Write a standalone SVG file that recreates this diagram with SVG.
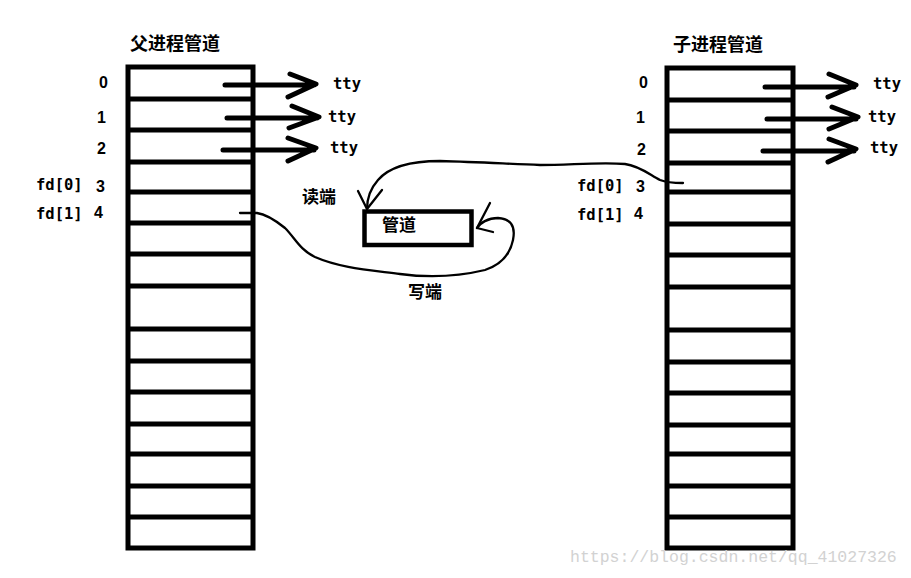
<svg xmlns="http://www.w3.org/2000/svg" width="911" height="578" viewBox="0 0 911 578">
<style>
.tbl{fill:none;stroke:#000;stroke-width:5}
.row{stroke:#000;stroke-width:5}
.arr{fill:none;stroke:#000;stroke-width:5;stroke-linecap:round;stroke-linejoin:round}
.wire{fill:none;stroke:#000;stroke-width:2.3;stroke-linecap:round;stroke-linejoin:round}
.num{font-family:"Liberation Sans",Arial,sans-serif;font-weight:bold;font-size:16px;fill:#000}
.mono{font-family:"DejaVu Sans Mono","Liberation Mono",monospace;font-weight:bold;font-size:15.5px;fill:#000}
.cjk{font-family:"Noto Sans CJK SC","Noto Sans CJK JP",sans-serif;font-weight:bold;font-size:17px;fill:#000}
.title{font-family:"Noto Sans CJK SC","Noto Sans CJK JP",sans-serif;font-weight:bold;font-size:18px;fill:#000}
.wm{font-family:"Liberation Mono","Courier New",monospace;font-size:16.5px;fill:#d2d2d2}
</style>
<rect width="911" height="578" fill="#fff"/>
<g id="parent-table">
<text class="title" x="130" y="50">父进程管道</text>
<rect class="tbl" x="128" y="67" width="125" height="481"/>
<path class="row" d="M128,99H253M128,130H253M128,162H253M128,192H253M128,223H253M128,254H253M128,286H253M128,329H253M128,361H253M128,392H253M128,424H253M128,454H253M128,486H253M128,517H253"/>
<text class="num" x="99" y="88">0</text>
<text class="num" x="97" y="123">1</text>
<text class="num" x="97" y="154">2</text>
<text class="num" x="96" y="192">3</text>
<text class="num" x="94" y="218">4</text>
<text class="mono" x="36" y="190">fd[0]</text>
<text class="mono" x="36" y="219">fd[1]</text>
<text class="mono" x="333" y="89">tty</text>
<text class="mono" x="328" y="122">tty</text>
<text class="mono" x="330" y="153">tty</text>
</g>
<g id="child-table">
<text class="title" x="673" y="51">子进程管道</text>
<rect class="tbl" x="667" y="68" width="126" height="480"/>
<path class="row" d="M667,100H793M667,131H793M667,163H793M667,192H793M667,224H793M667,255H793M667,287H793M667,330H793M667,362H793M667,393H793M667,425H793M667,454H793M667,486H793M667,517H793"/>
<text class="num" x="639" y="88">0</text>
<text class="num" x="636" y="123">1</text>
<text class="num" x="637" y="155">2</text>
<text class="num" x="636" y="192">3</text>
<text class="num" x="634" y="219">4</text>
<text class="mono" x="577" y="191">fd[0]</text>
<text class="mono" x="577" y="220">fd[1]</text>
<text class="mono" x="873" y="89">tty</text>
<text class="mono" x="868" y="122">tty</text>
<text class="mono" x="870" y="153">tty</text>
</g>
<g id="pipe">
<rect x="364.5" y="211.5" width="107" height="33.5" fill="none" stroke="#000" stroke-width="4.5"/>
<text class="cjk" x="382" y="231">管道</text>
<text class="cjk" x="302" y="203">读端</text>
<text class="cjk" x="408" y="298">写端</text>
</g>
<g id="connectors">
<path class="arr" d="M225,85H314M290,74L316,84L288,97"/>
<path class="arr" d="M227,118H317M292,106L319,117L289,128"/>
<path class="arr" d="M223,150H314M288,138L316,148L288,161"/>
<path class="arr" d="M765,87H854M829,74L856,85L828,97"/>
<path class="arr" d="M767,119H856M832,107L858,117L829,129"/>
<path class="arr" d="M763,151H854M829,139L856,149L828,162"/>
<path class="wire" d="M683,183C672,183 665,182 660,180C650,175 640,166 625,164C600,162 570,165 540,165C510,164 480,162 440,161C415,161 390,166 378,180C370,189 367,199 367,209"/>
<path class="wire" d="M358,191L367,209L382,190"/>
<path class="wire" d="M240,213L257,213C265,214 275,220 285,228C295,238 300,250 315,257C340,268 370,270 400,274C430,278 460,276 485,270C500,265 510,255 513,240C516,225 510,219 498,218C488,218 480,223 477,228"/>
<path class="wire" d="M490,203L477,228L493,232"/>
</g>
<text class="wm" x="570" y="562">https://blog.csdn.net/qq_41027326</text>
</svg>
